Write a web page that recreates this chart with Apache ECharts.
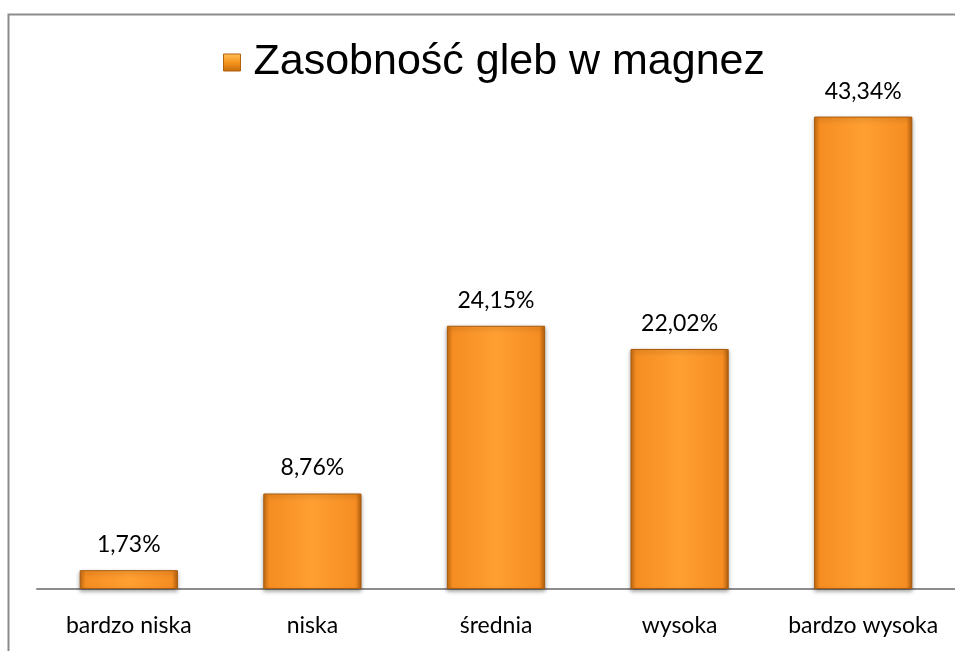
<!DOCTYPE html>
<html><head><meta charset="utf-8">
<script src="https://cdn.jsdelivr.net/npm/echarts@6/dist/echarts.min.js"></script>
<style>html,body{margin:0;padding:0;background:#fff}#c{width:955px;height:651px}</style>
</head><body><div id="c"></div>
<script>
const categories = ['bardzo niska', 'niska', 'średnia', 'wysoka', 'bardzo wysoka'];
const values = [1.73, 8.76, 24.15, 22.02, 43.34];
const seriesName = 'Zasobność gleb w magnez';

const barGrad = new echarts.graphic.LinearGradient(0, 0, 1, 0, [
  {offset: 0, color: '#c96f12'},
  {offset: 0.06, color: '#f58d22'},
  {offset: 0.5, color: '#ff9f32'},
  {offset: 0.94, color: '#f58d22'},
  {offset: 1, color: '#b8620c'}
]);
const iconGrad = new echarts.graphic.LinearGradient(0, 0, 0, 1, [
  {offset: 0, color: '#ffc35a'},
  {offset: 0.5, color: '#f7941d'},
  {offset: 1, color: '#c4690e'}
]);
const chart = echarts.init(document.getElementById('c'));
chart.setOption({
  animation: false,
  backgroundColor: '#fff',
  graphic: [{
    type: 'rect', left: 6, top: 12, z: 100, silent: true,
    shape: {x: 0, y: 0, width: 980, height: 680},
    style: {fill: 'none', stroke: '#8c8c8c', lineWidth: 2}
  }],
  legend: {
    left: 218, top: 36,
    itemWidth: 17, itemHeight: 17,
    icon: 'rect',
    textStyle: {fontFamily: 'Liberation Sans', fontSize: 43, color: '#000', padding: [0, 0, 0, 8]},
    data: [{name: seriesName, itemStyle: {color: iconGrad, borderColor: '#b3600b', borderWidth: 1}}]
  },
  grid: {left: 37, right: 0, top: 44, bottom: 62, containLabel: false},
  xAxis: {
    type: 'category', data: categories,
    axisLine: {lineStyle: {color: '#8c8c8c', width: 2}},
    axisTick: {show: false},
    axisLabel: {interval: 0, fontFamily: 'Lato', fontSize: 23, color: '#000', margin: 25}
  },
  yAxis: {type: 'value', min: 0, max: 50, show: false, splitLine: {show: false}},
  series: [{
    name: seriesName, type: 'bar', data: values, barWidth: '53.5%',
    itemStyle: {color: barGrad, borderColor: '#a85a0c', borderWidth: 1, shadowColor: 'rgba(0,0,0,0.35)', shadowBlur: 4, shadowOffsetY: 2},
    label: {
      show: true, position: 'top', distance: 14,
      fontFamily: 'Lato', fontSize: 23, color: '#000',
      formatter: p => p.value.toFixed(2).replace('.', ',') + '%'
    }
  }]
});
</script></body></html>
